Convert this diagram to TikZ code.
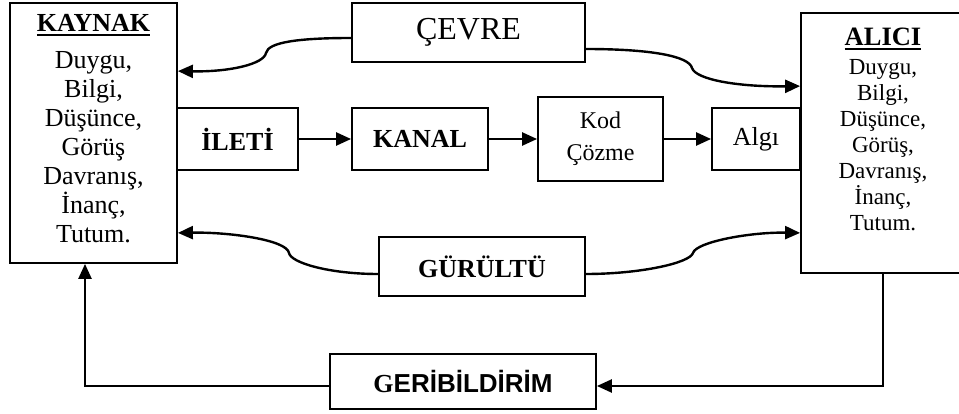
\documentclass[tikz,border=0pt]{standalone}
\usepackage{fontspec}
\setmainfont{Liberation Serif}
\setsansfont{Liberation Sans}
\usetikzlibrary{arrows.meta}

% kalin alti cizili baslik
\newcommand{\baslik}[1]{\setbox0=\hbox{\bfseries #1}\rlap{\copy0}\rule[-4.5pt]{\wd0}{2pt}}

\tikzset{
  kutu/.style={draw, line width=1.8pt, inner sep=0pt},
  kalin/.style={font=\fontsize{26}{29}\selectfont\bfseries},
  govde/.style={align=center, inner sep=0pt, font=\fontsize{26}{29}\selectfont},
  aliciyazi/.style={align=center, inner sep=0pt, font=\fontsize{23}{26}\selectfont},
  ok/.style={line width=2.4pt, ->}
}

\begin{document}
\begin{tikzpicture}[x=1pt, y=-1pt, >={Triangle[length=15pt,width=13pt]}]
\useasboundingbox (0,0) rectangle (959,414);

\node[kutu, minimum width=167pt, minimum height=260pt] at (93.5,133) (kaynak) {};
\node[govde, anchor=north] at (93.5,14.5)
  (kaynakYazi) {\baslik{KAYNAK}\\[8pt]Duygu,\\Bilgi,\\Düşünce,\\Görüş\\Davranış,\\İnanç,\\Tutum.};

\node[kutu, minimum width=164pt, minimum height=260pt] at (883,143) (alici) {};
\node[aliciyazi, anchor=north] at (883,28)
  (aliciYazi) {{\fontsize{26.5}{29}\selectfont\baslik{ALICI}}\\[3pt]Duygu,\\Bilgi,\\Düşünce,\\Görüş,\\Davranış,\\İnanç,\\Tutum.};

\node[kutu, font=\fontsize{32}{36}\selectfont, minimum width=233pt, minimum height=59pt] at (468.5,32.5)
  (cevre) {ÇEVRE};
\node[kutu, kalin, minimum width=121pt, minimum height=62pt] at (237.5,139) (ileti) {İLETİ};
\node[kutu, kalin, minimum width=136pt, minimum height=62pt] at (420,139) (kanal) {KANAL};
\node[kutu, align=center, font=\fontsize{24}{32}\selectfont, minimum width=125pt, minimum height=84pt] at (600.5,139)
  (kod) {Kod\\Çözme};
\node[kutu, font=\fontsize{26}{29}\selectfont, minimum width=88pt, minimum height=62pt] at (756,139) (algi) {Algı};
\node[kutu, kalin, minimum width=206pt, minimum height=59pt] at (482,266.5) (gurultu) {GÜRÜLTÜ};
\node[kutu, font=\fontsize{26}{29}\selectfont\sffamily\bfseries, minimum width=266pt, minimum height=55pt] at (463,381.5)
  (geri) {{\rmfamily G}ERİBİLDİRİM};

% ileti akisi
\draw[ok] (ileti) -- (kanal);
\draw[ok] (kanal) -- (kod);
\draw[ok] (kod) -- (algi);

% cevre
\draw[ok] ([yshift=-5.5pt]cevre.west) .. controls (300,38) and (268,42) .. (266,53)
  .. controls (264,64) and (230,72) .. ([yshift=-69pt]kaynak.north east);
\draw[ok] ([yshift=-16.5pt]cevre.east) .. controls (650,49) and (689,56) .. (692,68)
  .. controls (696,80) and (740,87) .. ([yshift=-74pt]alici.north west);

% gurultu
\draw[ok] ([yshift=-7.5pt]gurultu.west) .. controls (330,274) and (291,263) .. (289,253)
  .. controls (287,240) and (230,232) .. ([yshift=31pt]kaynak.south east);
\draw[ok] ([yshift=-7.5pt]gurultu.east) .. controls (640,274) and (690,263) .. (693,253)
  .. controls (696,242) and (750,232) .. ([yshift=41pt]alici.south west);

% geribildirim
\draw[ok] (alici.south) |- ([yshift=-4.5pt]geri.east);
\draw[ok] ([yshift=-4.5pt]geri.west) -| ([xshift=-8.5pt]kaynak.south);

\end{tikzpicture}
\end{document}
